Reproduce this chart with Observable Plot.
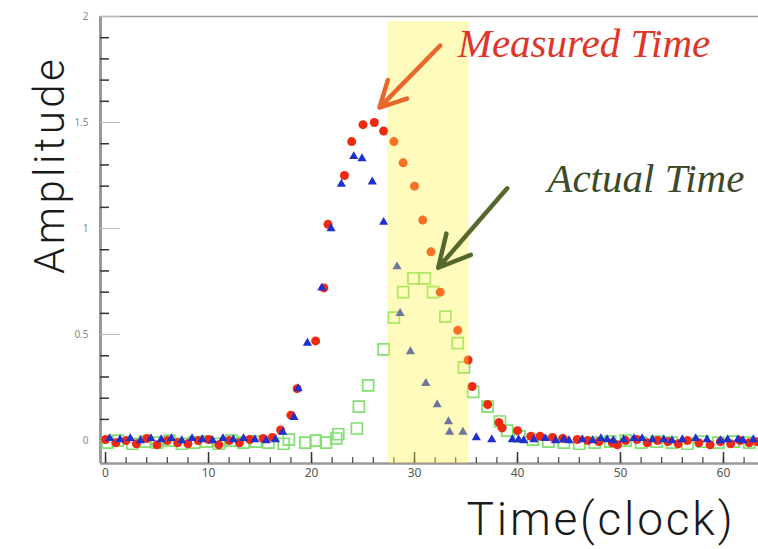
<!DOCTYPE html>
<html>
<head>
<meta charset="utf-8">
<script src="https://cdn.jsdelivr.net/npm/d3@7"></script>
<script src="https://cdn.jsdelivr.net/npm/@observablehq/plot@0.6"></script>
<style>
  html, body { margin: 0; padding: 0; background: #fff; }
  #chart svg { display: block; }
</style>
</head>
<body>
<div id="chart"></div>
<script>
// ---- Data ----
const measuredX = [0,1,2,3,4,5,6,7,8,9,10,11,12,13,14,
  15.3,16.2,17.0,18.0,18.6,20.4,21.2,21.6,23.2,23.9,25.0,26.1,27.0,28.0,28.9,30.0,30.8,31.6,32.5,34.2,35.2,35.6,37.1,38.2,38.5,
  40.0,41.3,42.2,43.4,44.4,45.8,46.8,47.9,49.2,49.7,50.5,51.6,52.6,53.6,54.6,55.6,56.5,57.6,58.7,59.7,60.7,61.6,62.5,63.3];
const measuredY = [0.005,-0.01,0.0,-0.015,0.01,-0.02,0.0,-0.01,-0.015,0.0,0.005,-0.02,0.0,-0.01,0.005,
  0.01,0.015,0.05,0.12,0.245,0.47,0.72,1.02,1.25,1.41,1.49,1.50,1.46,1.41,1.31,1.20,1.04,0.89,0.70,0.52,0.38,0.255,0.17,0.085,0.06,
  0.047,0.02,0.02,0.015,0.01,0.005,0.0,-0.005,-0.01,-0.02,0.0,0.005,-0.01,0.0,-0.005,-0.015,0.0,-0.01,-0.02,-0.005,-0.015,0.0,-0.01,-0.005];

const blueX = [0.4,1.4,2.4,3.4,4.4,5.4,6.4,7.4,8.4,9.4,10.4,11.4,12.4,13.4,14.5,
  15.6,16.5,17.2,18.3,18.7,19.6,21.0,21.9,22.9,24.1,24.9,25.9,27.0,28.3,28.6,29.6,31.1,32.2,33.3,33.4,34.7,36.0,37.5,
  39.5,40.1,40.6,41.6,42.7,43.7,44.5,45.0,46.3,47.3,48.1,48.7,49.3,50.3,51.3,52.1,53.1,54.2,55.0,56.0,57.3,58.4,59.7,60.4,61.4,61.9,62.9];
const blueY = [0.01,0.005,0.01,0.0,0.01,0.005,0.01,0.0,0.01,0.005,0.0,0.01,0.005,0.01,0.005,
  0.0,0.005,0.04,0.11,0.245,0.46,0.72,1.0,1.21,1.34,1.33,1.22,1.03,0.82,0.60,0.42,0.27,0.17,0.09,0.04,0.04,0.014,0.005,
  0.005,0.005,0.0,0.005,0.01,0.0,0.005,0.0,0.005,0.0,0.01,0.005,0.0,0.005,0.01,0.01,0.005,0.005,0.0,0.005,0.01,0.005,0.0,0.005,0.005,0.0,0.005];

const actualX = [0.2,1.2,2.6,3.8,5,6.2,7.4,8.6,9.8,11,12.2,13.4,14.6,15.8,
  17.3,17.8,19.4,20.4,21.4,22.4,22.6,24.4,24.6,25.5,27.0,28.0,28.9,29.9,31.0,31.8,33.0,34.2,34.8,35.7,37.1,38.3,39.0,
  40.2,41.5,43,44.5,46,47.5,49,50.5,52,53.5,55,56.5,58,59.5,61,62.5];
const actualY = [-0.01,0.0,-0.015,-0.005,-0.01,0.0,-0.015,-0.01,-0.005,-0.015,0.0,-0.01,-0.005,-0.01,
  -0.015,0.005,-0.01,0.0,-0.01,0.01,0.03,0.057,0.16,0.26,0.43,0.58,0.70,0.765,0.765,0.70,0.585,0.46,0.345,0.23,0.16,0.09,0.047,
  0.02,0.005,-0.005,-0.01,-0.015,-0.01,-0.005,0.0,-0.01,-0.005,-0.01,-0.015,-0.005,-0.01,-0.005,-0.01];

const xTicksMajor = [0,10,20,30,40,50,60];
const xTickLabels = ["0","10","20","30","40","50","60"];
const xTicksMinor = d3.range(0, 64, 2);
const yTicksMajor = [0,0.5,1,1.5,2];
const yTickLabels = ["0","0.5","1","1.5","2"];
const yTicksMinor = d3.range(0, 20).map(i => i / 10).filter(v => Math.round(v * 10) % 5 !== 0);

const xDomain = [-0.49, 63.4];
const yDomain = [-0.108, 2];

// highlighted window and annotations
const band = [{x1: 27.4, x2: 35.3, y1: -0.108, y2: 1.976}];
const arrows = [
  {x1: 32.5, y1: 1.863, x2: 26.6, y2: 1.57, color: "#e8672c"},
  {x1: 39.0, y1: 1.19, x2: 32.3, y2: 0.815, color: "#55692c"}
];
const labels = [
  {x: 34.2, y: 1.873, text: "Measured Time", color: "#e0352a"},
  {x: 42.9, y: 1.236, text: "Actual Time", color: "#3b4a2b"}
];
const yTitle = [{x: -5.3, y: 1.30, text: "Amplitude"}];

const measured = measuredX.map((x, i) => ({x, y: measuredY[i]}));
const blue = blueX.map((x, i) => ({x, y: blueY[i]}));
const actual = actualX.map((x, i) => ({x, y: actualY[i]}));

const chart = Plot.plot({
  width: 758,
  height: 549,
  marginLeft: 100,
  marginRight: 0,
  marginTop: 16,
  marginBottom: 86,
  x: {domain: xDomain, axis: null},
  y: {domain: yDomain, axis: null},
  marks: [
    // frame lines
    Plot.ruleY([yDomain[1]], {stroke: "#9a9a9a", strokeWidth: 1.5}),
    Plot.ruleY([yDomain[0]], {stroke: "#999", strokeWidth: 2.5}),
    Plot.ruleX([xDomain[0]], {stroke: "#999", strokeWidth: 3, y1: yDomain[0], y2: yDomain[1]}),
    // y ticks (inward)
    Plot.axisY({ticks: yTicksMinor, tickSize: -9, tickFormat: () => "", stroke: "#333", strokeWidth: 1.5}),
    Plot.axisY({ticks: yTicksMajor, tickSize: -20, tickFormat: () => "", stroke: "#bbb", strokeWidth: 1}),
    Plot.axisY({ticks: yTicksMajor, tickSize: 0, tickPadding: 12, tickFormat: (d, i) => yTickLabels[i],
      fontSize: 10, fill: "#888"}),
    // x ticks (inward)
    Plot.axisX({ticks: xTicksMinor, tickSize: -6, tickFormat: () => "", stroke: "#444", strokeWidth: 1.2}),
    Plot.axisX({ticks: xTicksMajor, tickSize: -11, tickFormat: () => "", stroke: "#333", strokeWidth: 1.5}),
    Plot.axisX({ticks: xTicksMajor, tickSize: 0, tickPadding: 5, tickFormat: (d, i) => xTickLabels[i],
      fontSize: 12, fill: "#555"}),
    // data
    Plot.dot(actual, {x: "x", y: "y", symbol: "square", r: 6.2, stroke: "#80e070", strokeWidth: 1.7, fill: "none"}),
    Plot.dot(measured, {x: "x", y: "y", r: 4.5, fill: "#f02a12"}),
    Plot.dot(blue, {x: "x", y: "y", symbol: "triangle", r: 3.4, fill: "#1f30cc"}),
    // highlight band
    Plot.rect(band, {x1: "x1", x2: "x2", y1: "y1", y2: "y2", fill: "rgb(255,244,70)", fillOpacity: 0.36}),
    // annotations
    Plot.arrow(arrows, {x1: "x1", y1: "y1", x2: "x2", y2: "y2", stroke: "color", strokeWidth: 4.5,
      headLength: 18, headAngle: 55}),
    Plot.text(labels, {x: "x", y: "y", text: "text", fill: "color", textAnchor: "start",
      fontFamily: "Liberation Serif", fontStyle: "italic", fontSize: 41}),
    Plot.text(yTitle, {x: "x", y: "y", text: "text", rotate: -90, lineAnchor: "middle", fontSize: 42,
      fontWeight: 300, fontFamily: "Roboto", fill: "#1a1a1a"}),
    Plot.text(["Time(clock)"], {frameAnchor: "bottom-right", textAnchor: "end", lineAnchor: "middle",
      dx: -23, dy: 57, fontSize: 46, fontWeight: 300, fontFamily: "Roboto", fill: "#1a1a1a"})
  ]
});
// wide tracking of the two axis titles, as in the reference
d3.select(chart).selectAll("text")
  .filter(function () { return this.textContent === "Amplitude"; })
  .style("letter-spacing", "3.4px");
d3.select(chart).selectAll("text")
  .filter(function () { return this.textContent === "Time(clock)"; })
  .style("letter-spacing", "2.8px");
document.getElementById("chart").appendChild(chart);
</script>
</body>
</html>
